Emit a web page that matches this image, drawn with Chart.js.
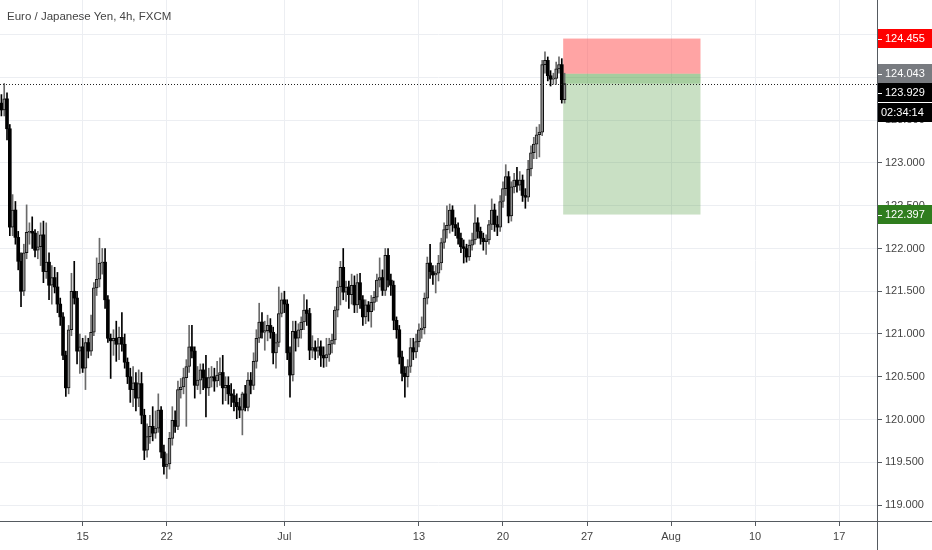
<!DOCTYPE html>
<html>
<head>
<meta charset="utf-8">
<script src="https://cdn.jsdelivr.net/npm/chart.js@4.4.1/dist/chart.umd.min.js"></script>
<style>
  html, body { margin: 0; padding: 0; background: #ffffff; }
  #wrap { position: relative; width: 932px; height: 550px; }
  #title { position: absolute; left: 7px; top: 11px; font: 11.5px 'Liberation Sans', Arial, sans-serif; color: #444444; line-height: 11.5px; white-space: nowrap; }
</style>
</head>
<body>
<div id="wrap">
  <canvas id="c" width="932" height="550"></canvas>
  <div id="title">Euro / Japanese Yen, 4h, FXCM</div>
</div>
<script>
// ---- data (EUR/JPY 4h candles) ----
const opens = [123.70,123.62,123.75,123.40,122.25,122.45,122.13,121.85,121.50,121.95,
122.19,122.20,122.18,121.98,122.02,122.16,121.73,121.84,121.57,121.66,
121.55,121.35,121.20,120.75,120.37,121.05,121.50,121.42,120.80,120.85,
120.60,120.90,120.80,121.02,121.54,121.64,121.83,121.84,121.40,120.95,
120.92,120.95,120.88,120.96,120.88,120.67,120.50,120.35,120.43,120.25,
120.42,120.05,119.64,119.80,119.92,119.84,119.90,120.11,119.62,119.45,
119.48,119.78,119.99,119.92,120.35,120.38,120.49,120.62,120.85,120.80,
120.40,120.46,120.58,120.49,120.37,120.49,120.50,120.45,120.52,120.55,
120.37,120.40,120.30,120.28,120.20,120.15,120.11,120.30,120.14,120.46,
120.40,120.68,120.95,121.14,121.02,121.04,121.10,121.02,120.78,120.90,
121.24,121.40,121.35,120.78,120.52,121.03,120.95,121.05,121.14,121.28,
121.24,120.81,120.84,120.80,120.85,120.75,120.72,120.76,120.88,120.93,
121.28,121.55,121.78,121.49,121.55,121.46,121.57,121.34,121.60,121.40,
121.20,121.34,121.26,121.37,121.43,121.63,121.66,121.51,121.92,121.63,
121.57,121.16,121.05,120.73,120.54,120.50,120.62,120.84,120.79,120.91,
121.05,121.07,121.42,121.83,121.73,121.69,121.71,121.83,122.07,122.22,
122.27,122.45,122.28,122.24,122.12,122.02,122.00,121.90,122.04,122.10,
122.30,122.20,122.12,122.08,122.10,122.28,122.45,122.28,122.25,122.55,
122.70,122.84,122.38,122.72,122.80,122.74,122.80,122.62,122.60,122.93,
123.12,123.22,123.33,123.36,124.15,124.20,124.02,123.98,123.99,124.10,
124.15,123.74];
const highs = [123.80,123.93,123.82,123.45,122.63,122.55,122.20,121.95,122.05,122.51,
122.30,122.37,122.22,122.20,122.30,122.32,122.30,121.95,121.80,121.78,
121.72,121.42,121.25,120.80,121.10,121.71,121.85,121.50,121.00,120.95,
120.98,120.95,121.22,121.60,121.89,122.12,122.00,122.00,121.45,121.00,
121.05,121.15,121.08,121.25,121.00,120.72,120.60,120.62,120.55,120.58,
120.55,120.12,119.95,120.05,120.15,120.10,120.30,120.15,119.70,119.60,
119.85,120.15,120.10,120.45,120.48,120.60,120.70,121.10,121.10,120.85,
120.62,120.65,120.65,120.75,120.60,120.62,120.60,120.68,120.72,120.75,
120.50,120.50,120.42,120.35,120.30,120.25,120.32,120.40,120.55,120.55,
120.78,121.05,121.36,121.25,121.15,121.22,121.18,121.08,121.00,121.55,
121.48,121.50,121.40,120.85,121.15,121.15,121.12,121.20,121.46,121.40,
121.30,120.98,120.92,120.95,120.92,120.85,120.95,120.95,121.00,121.32,
121.62,121.85,122.00,121.62,121.62,121.70,121.68,121.70,121.71,121.45,
121.40,121.38,121.45,121.50,121.70,121.89,121.75,122.00,122.00,121.70,
121.62,121.20,121.10,120.80,120.62,120.70,120.95,120.95,121.00,121.12,
121.20,121.48,121.90,122.05,121.80,121.80,121.92,122.12,122.30,122.50,
122.52,122.50,122.36,122.30,122.18,122.10,122.05,122.10,122.18,122.51,
122.36,122.25,122.18,122.16,122.33,122.58,122.52,122.38,122.62,122.78,
122.98,122.90,122.78,122.88,122.95,122.90,122.86,122.70,123.03,123.20,
123.30,123.42,123.45,124.20,124.30,124.24,124.08,124.05,124.18,124.24,
124.22,124.05];
const lows = [123.55,123.55,123.27,122.15,122.15,122.05,121.75,121.32,121.45,121.88,
122.05,122.00,121.90,121.88,121.80,121.60,121.65,121.40,121.35,121.48,
121.25,121.10,120.70,120.27,120.30,120.98,121.35,120.65,120.54,120.55,
120.35,120.72,120.75,120.98,121.45,121.55,121.70,121.30,120.90,120.48,
120.75,120.68,120.70,120.80,120.60,120.42,120.20,120.15,120.10,120.15,
119.95,119.53,119.56,119.72,119.75,119.78,119.85,119.55,119.36,119.31,
119.42,119.70,119.85,119.88,120.25,120.30,119.92,120.55,120.72,120.25,
120.35,120.30,120.35,120.03,120.28,120.38,120.33,120.38,120.40,120.18,
120.22,120.18,120.15,120.10,120.01,120.02,119.82,120.10,120.10,120.30,
120.35,120.60,120.90,120.95,120.81,120.92,120.95,120.65,120.60,120.85,
121.20,121.25,120.70,120.26,120.45,120.80,120.85,120.95,121.05,121.10,
120.70,120.72,120.70,120.72,120.62,120.61,120.62,120.68,120.78,120.88,
121.20,121.34,121.40,121.38,121.30,121.35,121.25,121.25,121.30,121.10,
121.12,121.15,121.08,121.28,121.38,121.55,121.45,121.45,121.55,121.45,
121.05,120.95,120.65,120.45,120.26,120.38,120.55,120.70,120.72,120.85,
120.95,121.00,121.35,121.65,121.58,121.48,121.62,121.75,122.00,122.12,
122.18,122.20,122.15,122.05,121.95,121.83,121.84,121.86,121.98,122.05,
122.12,122.05,121.98,121.93,122.05,122.22,122.20,122.15,122.20,122.48,
122.62,122.30,122.32,122.65,122.66,122.68,122.55,122.47,122.55,122.85,
123.05,123.05,123.07,123.32,124.05,123.96,123.90,123.92,123.92,124.05,
123.70,123.70];
const closes = [123.62,123.75,123.40,122.25,122.45,122.13,121.85,121.50,121.95,122.19,
122.20,122.18,121.98,122.02,122.16,121.73,121.84,121.57,121.66,121.55,
121.35,121.20,120.75,120.37,121.05,121.50,121.42,120.80,120.85,120.60,
120.90,120.80,121.02,121.54,121.64,121.83,121.84,121.40,120.95,120.92,
120.95,120.88,120.96,120.88,120.67,120.50,120.35,120.43,120.25,120.42,
120.05,119.64,119.80,119.92,119.84,119.90,120.11,119.62,119.45,119.48,
119.78,119.99,119.92,120.35,120.38,120.49,120.62,120.85,120.80,120.40,
120.46,120.58,120.49,120.37,120.49,120.50,120.45,120.52,120.55,120.37,
120.40,120.30,120.28,120.20,120.15,120.11,120.30,120.14,120.46,120.40,
120.68,120.95,121.14,121.02,121.04,121.10,121.02,120.78,120.90,121.24,
121.40,121.35,120.78,120.52,121.03,120.95,121.05,121.14,121.28,121.24,
120.81,120.84,120.80,120.85,120.75,120.72,120.76,120.88,120.93,121.28,
121.55,121.78,121.49,121.55,121.46,121.57,121.34,121.60,121.40,121.20,
121.34,121.26,121.37,121.43,121.63,121.66,121.51,121.92,121.63,121.57,
121.16,121.05,120.73,120.54,120.50,120.62,120.84,120.79,120.91,121.05,
121.07,121.42,121.83,121.73,121.69,121.71,121.83,122.07,122.22,122.27,
122.45,122.28,122.24,122.12,122.02,122.00,121.90,122.04,122.10,122.30,
122.20,122.12,122.08,122.10,122.28,122.45,122.28,122.25,122.55,122.70,
122.84,122.38,122.72,122.80,122.74,122.80,122.62,122.60,122.93,123.12,
123.22,123.33,123.36,124.15,124.20,124.02,123.98,123.99,124.10,124.15,
123.74,123.929];

// time axis: one slot per 4h bar (data + empty future)
const slotCount = 313;
const tickIndex  = [29, 59, 101, 149, 179, 209, 239, 269, 299];
const tickLabels = ['15', '22', 'Jul', '13', '20', '27', 'Aug', '10', '17'];

// price axis
const priceMin = 118.813;
const priceMax = 124.906;
const priceStep = 0.5;

// position tool (short) and live price
const stopPrice = 124.455;
const entryPrice = 124.043;
const lastPrice = 123.929;
const targetPrice = 122.397;
const timerText = '02:34:14';
const positionFrom = 200.5;
const positionTo = 249.5;

// ---- build ----
const labels = [];
for (let i = 0; i < slotCount; i++) labels.push('');
tickIndex.forEach((v, k) => { labels[v] = tickLabels[k]; });

const bodies = opens.map((o, i) => [o, closes[i]]);
const wicks = lows.map((l, i) => [l, highs[i]]);
const isUp = i => closes[i] >= opens[i];

const FONT = "'Liberation Sans', Arial, sans-serif";
const TXT = '#444444';
const AXIS = '#555a60';

const overlay = {
  id: 'overlay',
  beforeDatasetsDraw(chart) {
    const { ctx, scales: { x, y } } = chart;
    const x0 = x.getPixelForValue(positionFrom), x1 = x.getPixelForValue(positionTo);
    const ys = y.getPixelForValue(stopPrice), ye = y.getPixelForValue(entryPrice);
    const yt = y.getPixelForValue(targetPrice), yl = y.getPixelForValue(lastPrice);
    ctx.save();
    ctx.fillStyle = 'rgba(255,74,74,0.5)';
    ctx.fillRect(x0, ys, x1 - x0, ye - ys);
    ctx.fillStyle = 'rgba(76,153,60,0.3)';
    ctx.fillRect(x0, ye, x1 - x0, yt - ye);
    ctx.fillStyle = 'rgba(76,153,60,0.28)';
    ctx.fillRect(x0, ye, x1 - x0, yl - ye);
    ctx.restore();
  },
  afterDatasetsDraw(chart) {
    const { ctx, chartArea, scales: { y } } = chart;
    const yl = Math.round(y.getPixelForValue(lastPrice)) + 0.5;
    ctx.save();
    ctx.strokeStyle = '#222';
    ctx.lineWidth = 1;
    ctx.setLineDash([1, 2]);
    ctx.beginPath();
    ctx.moveTo(chartArea.left, yl);
    ctx.lineTo(chartArea.right, yl);
    ctx.stroke();
    ctx.restore();
  },
  afterDraw(chart) {
    const { ctx, chartArea, scales: { y } } = chart;
    const W = chart.width, H = chart.height;
    ctx.save();
    // axis line extensions
    ctx.strokeStyle = AXIS;
    ctx.lineWidth = 1;
    ctx.beginPath();
    ctx.moveTo(chartArea.right + 0.5, chartArea.bottom);
    ctx.lineTo(chartArea.right + 0.5, H);
    ctx.moveTo(chartArea.right, chartArea.bottom + 0.5);
    ctx.lineTo(W, chartArea.bottom + 0.5);
    ctx.stroke();
    // price labels (stacked so they do not overlap)
    const BH = 19;
    const left = chartArea.right + 1;
    const yStop = y.getPixelForValue(stopPrice);
    const yEntry = y.getPixelForValue(entryPrice);
    const yLast = Math.max(y.getPixelForValue(lastPrice), yEntry + BH);
    const yTimer = yLast + BH + 0.5;
    const yTarget = y.getPixelForValue(targetPrice);
    const boxes = [
      { cy: yStop, text: stopPrice.toFixed(3), bg: '#ff0000', dash: true },
      { cy: yEntry, text: entryPrice.toFixed(3), bg: '#787b80', dash: true },
      { cy: yLast, text: lastPrice.toFixed(3), bg: '#000000', dash: true },
      { cy: yTimer, text: timerText, bg: '#000000', dash: false },
      { cy: yTarget, text: targetPrice.toFixed(3), bg: '#2f7d1e', dash: true }
    ];
    ctx.font = '11px ' + FONT;
    ctx.textBaseline = 'middle';
    boxes.forEach(b => {
      ctx.fillStyle = b.bg;
      ctx.fillRect(left, Math.round(b.cy - BH / 2), W - left, BH);
      ctx.fillStyle = '#ffffff';
      if (b.dash) ctx.fillRect(left, Math.round(b.cy), 4, 1);
      ctx.fillText(b.text, b.dash ? 885 : 881, b.cy + 0.5);
    });
    ctx.restore();
  }
};

new Chart(document.getElementById('c'), {
  type: 'bar',
  data: {
    labels: labels,
    datasets: [
      {
        label: 'body',
        data: bodies,
        grouped: false,
        barThickness: 3,
        minBarLength: 1,
        borderSkipped: false,
        borderWidth: ctx => isUp(ctx.dataIndex) ? 1 : 0,
        borderColor: '#111111',
        backgroundColor: ctx => isUp(ctx.dataIndex) ? '#8e8e8e' : '#000000'
      },
      {
        label: 'wick',
        data: wicks,
        grouped: false,
        barThickness: 1,
        borderWidth: 0,
        backgroundColor: ctx => isUp(ctx.dataIndex) ? '#6a6a6a' : '#000000'
      }
    ]
  },
  options: {
    responsive: false,
    animation: false,
    devicePixelRatio: 1,
    layout: { padding: 0, autoPadding: false },
    plugins: { legend: { display: false }, tooltip: { enabled: false }, title: { display: false } },
    scales: {
      x: {
        type: 'category',
        offset: true,
        grid: { offset: false, color: '#eceef2', tickColor: AXIS, tickLength: 5, drawTicks: true },
        border: { color: AXIS, width: 1 },
        ticks: { autoSkip: false, maxRotation: 0, padding: 4, color: TXT, font: { family: FONT, size: 11 } },
        afterBuildTicks: scale => { scale.ticks = tickIndex.map(v => ({ value: v })); },
        afterFit: scale => { scale.height = 29; scale.paddingLeft = 0; scale.paddingRight = 0; }
      },
      y: {
        type: 'linear',
        position: 'right',
        min: priceMin,
        max: priceMax,
        grid: { color: '#eceef2', tickColor: AXIS, tickLength: 5 },
        border: { color: AXIS, width: 1 },
        ticks: {
          stepSize: priceStep,
          includeBounds: false,
          padding: 3,
          color: TXT,
          font: { family: FONT, size: 11 },
          callback: v => Number(v).toFixed(3)
        },
        afterFit: scale => { scale.width = 55; scale.paddingTop = 0; scale.paddingBottom = 0; }
      }
    }
  },
  plugins: [overlay]
});
</script>
</body>
</html>
